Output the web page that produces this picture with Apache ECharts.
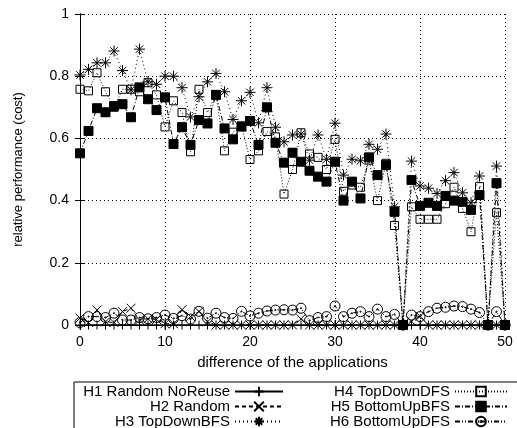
<!DOCTYPE html>
<html>
<head>
<meta charset="utf-8">
<script src="https://cdn.jsdelivr.net/npm/echarts@6/dist/echarts.min.js"></script>
<style>html,body{margin:0;padding:0;background:#fff}#c{width:517px;height:428px}</style>
</head>
<body>
<div id="c"></div>
<script>
const diffs = [0,1,2,3,4,5,6,7,8,9,10,11,12,13,14,15,16,17,18,19,20,21,22,23,24,25,26,27,28,29,30,31,32,33,34,35,36,37,38,39,40,41,42,43,44,45,46,47,48,49,50];
const seriesNames = ['H1 Random NoReuse','H2 Random','H3 TopDownBFS','H4 TopDownDFS','H5 BottomUpBFS','H6 BottomUpDFS'];
const h1 = [0,0,0,0,0,0,0,0,0,0,0,0,0,0,0,0,0,0,0,0,0,0,0,0,0,0,0,0,0,0,0,0,0,0,0,0,0,0,0,0,0,0,0,0,0,0,0,0,0,0,0];
const h2 = [0.022,0.008,0.048,0.01,0.008,0.043,0.054,0.016,0.02,0.018,0.004,0.004,0.049,0.027,0.043,0.01,0,0,0,0,0,0,0,0,0,0,0.02,0,0,0,0,0,0,0,0,0,0,0,0,0.012,0.028,0,0,0,0,0,0,0,0,0,0];
const h3 = [0.804,0.822,0.843,0.843,0.881,0.818,0.756,0.887,0.782,0.774,0.80,0.80,0.763,0.669,0.734,0.782,0.809,0.75,0.661,0.721,0.748,0.65,0.763,0.636,0.589,0.611,0.614,0.53,0.611,0.533,0.649,0.482,0.533,0.528,0.581,0.565,0.614,0.38,0,0.527,0.447,0.44,0.423,0.464,0.49,0.425,0.393,0.479,0,0.511,0];
const h4 = [0.758,0.753,0.811,0.75,0.70,0.758,0.758,0.75,0.779,0.74,0.637,0.721,0.683,0.557,0.758,0.683,0.74,0.56,0.62,0.64,0.532,0.56,0.622,0.605,0.421,0.50,0.618,0.55,0.539,0.50,0.597,0.43,0.45,0.443,0.53,0.40,0.52,0.32,0,0.38,0.34,0.34,0.34,0.39,0.443,0.375,0.30,0.445,0,0.361,0];
const h5 = [0.552,0.624,0.697,0.684,0.704,0.71,0.668,0.764,0.726,0.691,0.732,0.582,0.636,0.579,0.659,0.648,0.74,0.632,0.597,0.638,0.656,0.579,0.70,0.586,0.522,0.554,0.525,0.496,0.477,0.461,0.525,0.40,0.461,0.407,0.539,0.482,0.514,0.364,0,0.466,0.383,0.393,0.383,0.415,0.40,0.396,0.37,0.418,0,0.456,0];
const h6 = [0.008,0.027,0.027,0.024,0.038,0.016,0.016,0.024,0.02,0.024,0.032,0.021,0.03,0.019,0.044,0.022,0.038,0.024,0.021,0.044,0.029,0.038,0.045,0.048,0.049,0.048,0.054,0.014,0.024,0.027,0.061,0.027,0.038,0.043,0.027,0.051,0.027,0.034,0,0.032,0.027,0.043,0.054,0.057,0.061,0.059,0.051,0.04,0,0.043,0];
const xTicks = [0,10,20,30,40,50];
const yTicks = ['0','0.2','0.4','0.6','0.8','1'];

const FONT = 'Liberation Sans';
const pair = arr => diffs.map((d, i) => [d, arr[i]]);
const symPlus = 'path://M5,0L5,10M0,5L10,5';
const symCross = 'path://M0,0L10,10M10,0L0,10';
const symStar = 'path://M5,0L5,10M0,5L10,5M1.6,1.6L8.4,8.4M8.4,1.6L1.6,8.4';
const symCircDot = 'path://M10,5A5,5,0,1,1,0,5A5,5,0,1,1,10,5ZM5.6,5A0.6,0.6,0,1,1,4.4,5A0.6,0.6,0,1,1,5.6,5Z';
const clear = 'rgba(0,0,0,0)';

function mk(name, data, symbol, size, dash, filled) {
  return {
    name, type: 'line', data: pair(data), symbol, symbolSize: size,
    showAllSymbol: true, animation: false,
    lineStyle: { color: '#000', width: 1, type: dash },
    itemStyle: { color: filled ? '#000' : clear, borderColor: '#000', borderWidth: 1 },
    emphasis: { disabled: true }
  };
}

const chart = echarts.init(document.getElementById('c'), null, { renderer: 'canvas' });
const axisCommon = {
  type: 'value',
  axisLine: { show: true, lineStyle: { color: '#000', width: 1 } },
  axisTick: { show: true, inside: true, length: 5, lineStyle: { color: '#000' } },
};
const legendCommon = {
  orient: 'vertical', top: 382, height: 120,
  align: 'right', itemGap: 0, itemHeight: 12,
  selectedMode: false
};
chart.setOption({
  animation: false,
  backgroundColor: '#fff',
  textStyle: { fontFamily: FONT },
  grid: { left: 80, right: 12, top: 14, bottom: 103, containLabel: false },
  legend: [
    Object.assign({}, legendCommon, {
      left: 74, padding: [2, 260, 30, 6], itemWidth: 48,
      borderColor: '#000', borderWidth: 1,
      data: seriesNames.slice(0, 3),
      textStyle: { fontFamily: FONT, fontSize: 15, color: '#000', width: 150, lineHeight: 14, overflow: 'none' }
    }),
    Object.assign({}, legendCommon, {
      left: 323, padding: [2, 5, 5, 5], itemWidth: 52,
      data: seriesNames.slice(3),
      textStyle: { fontFamily: FONT, fontSize: 15, color: '#000', width: 122, lineHeight: 14, overflow: 'none' }
    })
  ],
  xAxis: [
    Object.assign({}, axisCommon, {
      min: 0, max: 50, interval: 10, position: 'bottom',
      name: 'difference of the applications', nameLocation: 'middle', nameGap: 30,
      nameTextStyle: { fontFamily: FONT, fontSize: 15, color: '#000' },
      axisLabel: { color: '#000', fontFamily: FONT, fontSize: 14, margin: 10,
        formatter: v => xTicks.includes(v) ? String(v) : '' },
      splitLine: { show: true, lineStyle: { color: '#000', type: [1, 3], width: 1 } }
    }),
    Object.assign({}, axisCommon, {
      min: 0, max: 50, interval: 10, position: 'top',
      axisLabel: { show: false }, splitLine: { show: false }
    })
  ],
  yAxis: [
    Object.assign({}, axisCommon, {
      min: 0, max: 1, interval: 0.2, position: 'left',
      name: 'relative performance (cost)', nameLocation: 'middle', nameGap: 55, nameRotate: 90,
      nameTextStyle: { fontFamily: FONT, fontSize: 13, color: '#000' },
      axisLabel: { color: '#000', fontFamily: FONT, fontSize: 14, margin: 11,
        formatter: (v) => { const s = String(Math.round(v * 10) / 10); return yTicks.includes(s) ? s : ''; } },
      splitLine: { show: true, lineStyle: { color: '#000', type: [1, 3], width: 1 } }
    }),
    Object.assign({}, axisCommon, {
      min: 0, max: 1, interval: 0.2, position: 'right',
      axisLabel: { show: false }, splitLine: { show: false }
    })
  ],
  series: [
    mk(seriesNames[0], h1, symPlus, 9, 'solid', false),
    mk(seriesNames[1], h2, symCross, 9, [4, 3], false),
    mk(seriesNames[2], h3, symStar, 11, [1, 3], false),
    mk(seriesNames[3], h4, 'rect', 8, [1, 2], false),
    mk(seriesNames[4], h5, 'rect', 9, [5, 2, 1, 2], true),
    mk(seriesNames[5], h6, symCircDot, 10, [5, 2, 1, 2, 1, 2], false)
  ]
});
</script>
</body>
</html>
